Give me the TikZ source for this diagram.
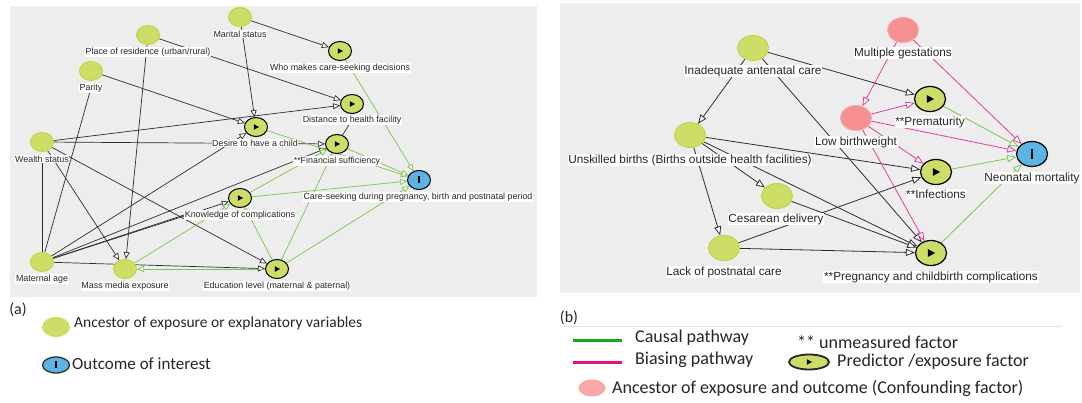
\documentclass[tikz,border=0pt]{standalone}
\usepackage{fontspec}
\setmainfont{Liberation Sans}
\newfontfamily\legfont{Carlito}
\usetikzlibrary{arrows.meta,shapes.geometric}
\definecolor{panel}{RGB}{237,237,237}
\definecolor{ancfill}{RGB}{206,220,104}
\definecolor{ancdraw}{RGB}{192,214,62}
\definecolor{confill}{RGB}{247,145,145}
\definecolor{condraw}{RGB}{244,170,170}
\definecolor{outfill}{RGB}{92,180,228}
\definecolor{causal}{RGB}{118,200,78}
\definecolor{bias}{RGB}{222,62,160}
\definecolor{edgeblk}{RGB}{45,45,45}
\definecolor{legg}{RGB}{24,170,24}
\definecolor{legp}{RGB}{226,20,122}
\pgfdeclarelayer{back}
\pgfdeclarelayer{edges}
\pgfsetlayers{back,edges,main}
\newcommand\playtri[1]{\fill[black] ([xshift=-0.55*#1,yshift=0.7*#1]path picture bounding box.center) -- ([xshift=0.75*#1]path picture bounding box.center) -- ([xshift=-0.55*#1,yshift=-0.7*#1]path picture bounding box.center) -- cycle;}
\newcommand\outbar[1]{\fill[black] ([xshift=-0.8pt,yshift=-#1]path picture bounding box.center) rectangle ([xshift=0.8pt,yshift=#1]path picture bounding box.center);}
\tikzset{
  sl/.style={minimum width=23pt, minimum height=19pt},
  sr/.style={minimum width=31pt, minimum height=25pt},
  anc/.style={ellipse, inner sep=0pt, fill=ancfill, draw=ancdraw, line width=0.9pt},
  conf/.style={ellipse, inner sep=0pt, fill=confill, draw=condraw, line width=0.9pt},
  predL/.style={ellipse, inner sep=0pt, fill=ancfill, draw=black, line width=1pt, sl, path picture={\playtri{4pt}}},
  predR/.style={ellipse, inner sep=0pt, fill=ancfill, draw=black, line width=1.2pt, sr, path picture={\playtri{5.5pt}}},
  outL/.style={ellipse, inner sep=0pt, fill=outfill, draw=black, line width=1pt, sl, path picture={\outbar{3.5pt}}},
  outR/.style={ellipse, inner sep=0pt, fill=outfill, draw=black, line width=1.2pt, sr, path picture={\outbar{5pt}}},
  lab/.style={fill=white, inner sep=0.6pt, text=black!85},
  fl/.style={lab, font=\fontsize{8.9}{10}\selectfont},
  fr/.style={lab, font=\fontsize{11.8}{13}\selectfont},
  leg/.style={font=\legfont\fontsize{18}{20}\selectfont, text=black!85, inner sep=0pt},
  eL/.style={draw=edgeblk, line width=0.7pt, -{Triangle[fill=white, length=7pt, width=6pt]}},
  lineL/.style={draw=edgeblk, line width=0.7pt},
  gL/.style={draw=causal, line width=0.7pt, -{Triangle[fill=white, length=7pt, width=6pt]}},
  eR/.style={draw=edgeblk, line width=0.8pt, -{Triangle[fill=white, length=9pt, width=7pt]}},
  pR/.style={draw=bias, line width=0.8pt, -{Triangle[fill=white, length=9pt, width=7pt]}},
  gR/.style={draw=causal, line width=0.8pt, -{Triangle[fill=white, length=9pt, width=7pt]}},
}
\begin{document}
\begin{tikzpicture}[x=1pt,y=-1pt]
\useasboundingbox (0,0) rectangle (1082,403);
\begin{pgfonlayer}{back}
\fill[white] (0,0) rectangle (1082,403);
\fill[panel] (10,6) rectangle (537,297);
\fill[panel] (560,3) rectangle (1080,293);
\end{pgfonlayer}

% ---------- left panel nodes ----------
\node[anc, sl] (ms) at (240,17) {};
\node[fl] (msl) at (240,34) {Marital status};
\node[anc, sl] (pr) at (148,35) {};
\node[fl] (prl) at (148,52) {Place of residence (urban/rural)};
\node[anc, sl] (par) at (91,71) {};
\node[fl] (parl) at (91,88) {Parity};
\node[anc, sl] (ws) at (42,142) {};
\node[fl] (wsl) at (42,159) {Wealth status};
\node[anc, sl] (ma) at (42,262) {};
\node[fl] (mal) at (42,279) {Maternal age};
\node[anc, sl] (mm) at (125,269) {};
\node[fl] (mml) at (125,286) {Mass media exposure};
\node[predL] (ed) at (277,269) {};
\node[fl] (edl) at (277,286) {Education level (maternal \& paternal)};
\node[predL] (kn) at (240,198) {};
\node[fl] (knl) at (240,215) {Knowledge of complications};
\node[predL] (wm) at (340,51) {};
\node[fl] (wml) at (340,68) {Who makes care-seeking decisions};
\node[predL] (dh) at (352,104) {};
\node[fl] (dhl) at (352,120) {Distance to health facility};
\node[predL] (dc) at (256,127) {};
\node[fl] (dcl) at (255,143) {Desire to have a child};
\node[predL] (fs) at (337,144) {};
\node[fl] (fsl) at (337,161) {**Financial sufficiency};
\node[outL] (cs) at (419,180) {};
\node[fl] (csl) at (418,197) {Care-seeking during pregnancy, birth and postnatal period};

% ---------- right panel nodes ----------
\node[anc, sr] (iac) at (753,48) {};
\node[fr] (iacl) at (753,71) {Inadequate antenatal care};
\node[conf, sr] (mg) at (903,30) {};
\node[fr] (mgl) at (903,53) {Multiple gestations};
\node[conf, sr] (lbw) at (856,118) {};
\node[fr] (lbwl) at (856,142) {Low birthweight};
\node[predR] (pm) at (930,99) {};
\node[fr] (pml) at (930,122) {**Prematurity};
\node[outR] (nm) at (1032,154) {};
\node[fr] (nml) at (1032,178) {Neonatal mortality};
\node[predR] (inf) at (936,172) {};
\node[fr] (infl) at (936,194) {**Infections};
\node[predR] (pcc) at (931,253) {};
\node[fr] (pccl) at (931,277) {**Pregnancy and childbirth complications};
\node[anc, sr] (ub) at (690,135) {};
\node[fr] (ubl) at (690,160) {Unskilled births (Births outside health facilities)};
\node[anc, sr] (cd) at (777,196) {};
\node[fr] (cdl) at (776,219) {Cesarean delivery};
\node[anc, sr] (lpc) at (724,248) {};
\node[fr] (lpcl) at (724,272) {Lack of postnatal care};

% ---------- edges ----------
\begin{pgfonlayer}{edges}
\draw[eL] (ms) -- (wm);
\draw[eL] (ms) -- (dc);
\draw[eL] (pr) -- (dh);
\draw[eL] (pr) -- (mm);
\draw[eL] (par) -- (dc);
\draw[lineL] (ma) -- (parl);
\draw[lineL] (ma) -- (wsl);
\draw[eL] (ws) -- (dh);
\draw[eL] (ws) -- (fs);
\draw[eL] (ws) -- (mm);
\draw[eL] (ws) -- (ed);
\draw[eL] (ma) -- (dc);
\draw[eL] (ma) -- (fs);
\draw[eL] (ma) -- (kn);
\draw[lineL] (ma) -- (knl.west);
\draw[eL] (ma) -- (ed);
\draw[lineL] (fs) -- (dhl);
\draw[gL] (wm) -- (cs);
\draw[gL] (dc) -- (cs);
\draw[gL] (fs) -- (cs);
\draw[gL] (kn) -- (cs);
\draw[gL] (ed) -- (cs);
\draw[gL] (kn) -- (fs);
\draw[gL] (ed) -- (fs);
\draw[gL] (ed) -- (kn);
\draw[gL] (ed) -- (mm);
\draw[gL] (mm) -- (kn);

\draw[eR] (iac) -- (ub);
\draw[eR] (iac) -- (pm);
\draw[eR] (iac) -- (pcc);
\draw[eR] (ub) -- (inf);
\draw[eR] (ub) -- (cd);
\draw[eR] (ub) -- (lpc);
\draw[eR] (ub) -- (pcc);
\draw[eR] (cd) -- (pcc);
\draw[eR] (lpc) -- (pcc);
\draw[eR] (lpc) -- (inf);
\draw[pR] (mg) -- (lbw);
\draw[pR] (mg) -- (nm);
\draw[pR] (lbw) -- (pm);
\draw[pR] (lbw) -- (nm);
\draw[pR] (lbw) -- (inf);
\draw[pR] (lbw) -- (pcc);
\draw[gR] (pm) -- (nm);
\draw[gR] (inf) -- (nm);
\draw[gR] (pcc) -- (nm);
\end{pgfonlayer}

% ---------- legend (a) ----------
\node[leg, font=\legfont\fontsize{16}{18}\selectfont] (la) at (18,310) {(a)};
\node[anc, minimum width=28pt, minimum height=20pt, draw=none] (lga) at (56,327) {};
\node[leg, font=\legfont\fontsize{15.5}{18}\selectfont, anchor=west] (lgat) at (74,323) {Ancestor of exposure or explanatory variables};
\node[ellipse, inner sep=0pt, fill=outfill, draw=black!80, line width=1.3pt, minimum width=27pt, minimum height=16pt, path picture={\outbar{3.5pt}}] (lgo) at (56,365) {};
\node[leg, font=\legfont\fontsize{17}{19}\selectfont, anchor=west] (lgot) at (72,364) {Outcome of interest};

% ---------- legend (b) ----------
\node[leg, font=\legfont\fontsize{16}{18}\selectfont] (lb) at (569,318) {(b)};
\draw[black!10, line width=0.6pt] (560,326) -- (1062,326);
\draw[legg, line width=3pt] (573,341) -- (622,341);
\node[leg, anchor=west] (lcp) at (635,338) {Causal pathway};
\draw[legp, line width=3pt] (573,363) -- (622,363);
\node[leg, anchor=west] (lbp) at (635,360) {Biasing pathway};
\node[leg, anchor=west] (lum) at (797,342) {** unmeasured factor};
\node[ellipse, inner sep=0pt, fill=ancfill, draw=black!85, line width=1.8pt, minimum width=40pt, minimum height=15pt, path picture={\playtri{4pt}}] (lpe) at (809,362) {};
\node[leg, anchor=west] (lpt) at (837,362) {Predictor /exposure factor};
\node[ellipse, inner sep=0pt, fill=confill!80, minimum width=27pt, minimum height=17pt] (lcf) at (592,388) {};
\node[leg, anchor=west] (lct) at (612,388) {Ancestor of exposure and outcome (Confounding factor)};
\end{tikzpicture}
\end{document}
